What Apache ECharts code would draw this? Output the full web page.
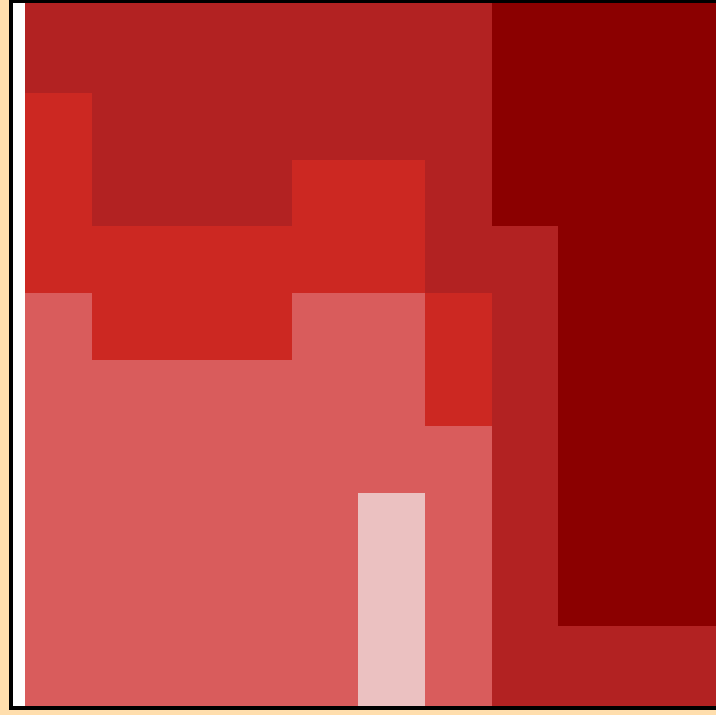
<!DOCTYPE html>
<html>
<head>
<meta charset="utf-8">
<script src="https://cdn.jsdelivr.net/npm/echarts@6/dist/echarts.min.js"></script>
<style>
html,body{margin:0;padding:0;background:#FFDEAD;}
#chart{width:716px;height:715px;}
</style>
</head>
<body>
<div id="chart"></div>
<script>
// Level of each cell (0 = lightest ... 4 = darkest), one array per row, top to bottom
const row0  = [3,3,3,3,3,3,3,4,4,4,4];
const row1  = [3,3,3,3,3,3,3,4,4,4,4];
const row2  = [2,3,3,3,3,3,3,4,4,4,4];
const row3  = [2,3,3,3,2,2,3,4,4,4,4];
const row4  = [2,2,2,2,2,2,3,3,4,4,4];
const row5  = [1,2,2,2,1,1,2,3,4,4,4];
const row6  = [1,1,1,1,1,1,2,3,4,4,4];
const row7  = [1,1,1,1,1,1,1,3,4,4,4];
const row8  = [1,1,1,1,1,0,1,3,4,4,4];
const row9  = [1,1,1,1,1,0,1,3,4,4,4];
const row10 = [1,1,1,1,1,0,1,3,3,3,3];
const row11 = [1,1,1,1,1,0,1,3,3,3,3];
const rows = [row0,row1,row2,row3,row4,row5,row6,row7,row8,row9,row10,row11];

const levelColors = ['#EBC1C1','#D95C5C','#CC2822','#B22222','#8B0000'];

const data = [];
rows.forEach((r, ri) => r.forEach((v, ci) => data.push([ci, ri, v])));

const chart = echarts.init(document.getElementById('chart'));
chart.setOption({
  backgroundColor: '#FFDEAD',
  animation: false,
  grid: {
    show: true, left: 11, top: 1, right: 0, bottom: 7,
    backgroundColor: '#ffffff', borderColor: '#000000', borderWidth: 4
  },
  xAxis: { type: 'value', min: -0.21, max: 10.365, show: false },
  yAxis: { type: 'value', min: 0.62, max: 11.225, inverse: true, show: false },
  visualMap: {
    show: false, type: 'piecewise', dimension: 2, seriesIndex: 0,
    pieces: levelColors.map((c, i) => ({ value: i, color: c }))
  },
  series: [{
    type: 'custom',
    data: data,
    renderItem: function (params, api) {
      const x = api.value(0), y = api.value(1);
      const p0 = api.coord([x, y]);
      const p1 = api.coord([x + 1, y + 1]);
      const x0 = Math.round(Math.min(p0[0], p1[0])), x1 = Math.round(Math.max(p0[0], p1[0]));
      const y0 = Math.round(Math.min(p0[1], p1[1])), y1 = Math.round(Math.max(p0[1], p1[1]));
      const cs = params.coordSys;
      const rect = echarts.graphic.clipRectByRect(
        { x: x0, y: y0, width: x1 - x0, height: y1 - y0 },
        { x: cs.x + 2, y: cs.y + 2, width: cs.width, height: cs.height - 4 }
      );
      if (!rect) return;
      return { type: 'rect', shape: rect, style: { fill: api.visual('color'), stroke: null } };
    }
  }]
});
</script>
</body>
</html>
